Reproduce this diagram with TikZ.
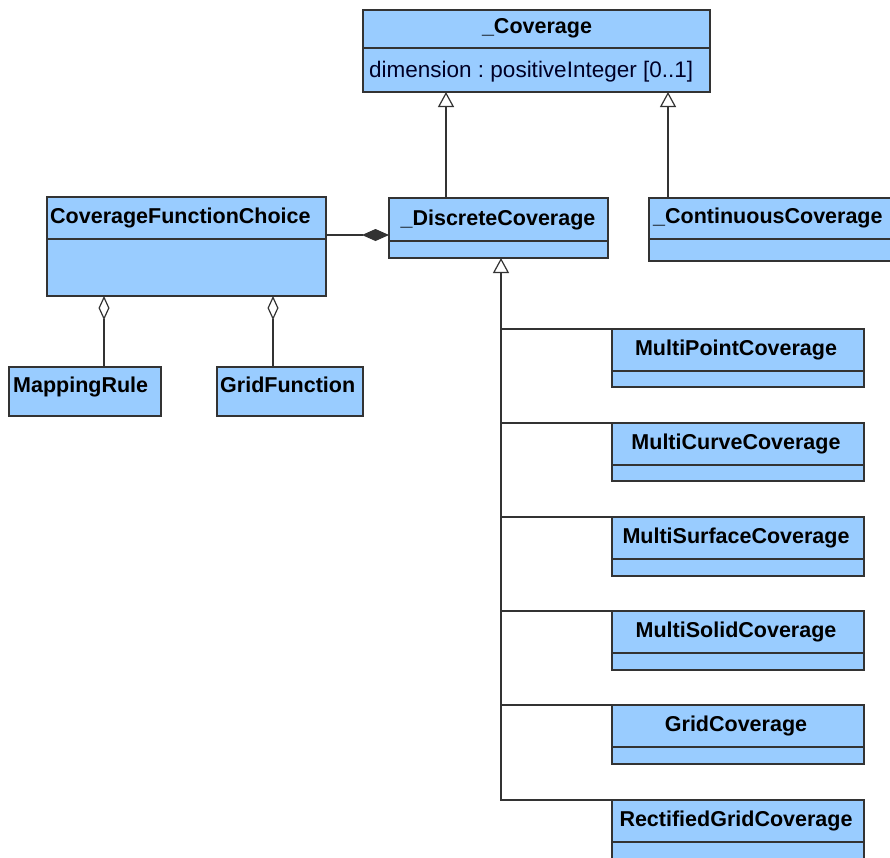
\documentclass[tikz,border=0pt]{standalone}
\usepackage{fontspec}
\setmainfont{Liberation Sans}
\usetikzlibrary{arrows.meta}
\definecolor{clsfill}{RGB}{153,204,255}
\definecolor{clsline}{RGB}{51,51,51}
\frenchspacing
\tikzset{
 cls/.style={draw=clsline, fill=clsfill, line width=1.2pt, inner sep=0pt, outer sep=0pt},
 sepline/.style={draw=clsline, line width=1.2pt},
 ttl/.style={font=\fontsize{21.5}{24}\selectfont\bfseries, inner sep=0pt, text=black},
 attr/.style={font=\fontsize{22.5}{24}\selectfont, inner sep=0pt, text=black!85!blue},
 conn/.style={draw=clsline, line width=1.2pt},
 gen/.style={conn, -{Triangle[open, length=15pt, width=16pt, fill=white]}},
 agg/.style={conn, {Diamond[open, length=24pt, width=11pt, fill=white]}-},
 comp/.style={conn, -{Diamond[length=27pt, width=12pt, fill=clsline]}},
}
% name, x1, y1, x2, y2, ysep (0 = none)
\newcommand\umlcls[6]{%
 \node[cls, anchor=north west, minimum width={#4pt-#2pt}, minimum height={#5pt-#3pt}] (#1) at (#2,#3) {};
 \ifnum#6>0 \draw[sepline] (#2,#6) -- (#4,#6);\fi
}
\begin{document}
\begin{tikzpicture}[x=1pt,y=-1pt]
\useasboundingbox[fill=white] (0,0) rectangle (890,857);
% classes
\umlcls{cov}{363}{10}{710}{92}{48}
\node[ttl, anchor=base] at (537,33) {\_Coverage};
\node[attr, anchor=base west] at (369,77) {dimension : positiveInteger [0..1]};

\umlcls{cfc}{47}{197}{326}{296}{239}
\node[ttl, anchor=base west] at (50,223) {CoverageFunctionChoice};

\umlcls{disc}{389}{198}{608}{258}{241}
\node[ttl, anchor=base] at (498,225) {\_DiscreteCoverage};

\umlcls{cont}{649}{198}{894}{261}{239}
\node[ttl, anchor=base west] at (653,223) {\_ContinuousCoverage};

\umlcls{map}{9}{367}{161}{416}{0}
\node[ttl, anchor=base west] at (13,392) {MappingRule};

\umlcls{gf}{217}{367}{363}{416}{0}
\node[ttl, anchor=base west] at (220,392) {GridFunction};

\umlcls{mpc}{612}{329}{864}{387}{371}
\node[ttl, anchor=base] at (736,355) {MultiPointCoverage};
\umlcls{mcc}{612}{423}{864}{481}{465}
\node[ttl, anchor=base] at (736,449) {MultiCurveCoverage};
\umlcls{msc}{612}{517}{864}{576}{559}
\node[ttl, anchor=base] at (736,543) {MultiSurfaceCoverage};
\umlcls{mso}{612}{611}{864}{670}{653}
\node[ttl, anchor=base] at (736,637) {MultiSolidCoverage};
\umlcls{gc}{612}{705}{864}{764}{747}
\node[ttl, anchor=base] at (736,731) {GridCoverage};
\umlcls{rgc}{612}{800}{864}{860}{842}
\node[ttl, anchor=base] at (736,826) {RectifiedGridCoverage};

% generalisations to _Coverage
\coordinate (g1) at ([xshift=57pt]disc.north west);
\draw[gen] (g1) -- (g1 |- cov.south);
\coordinate (g2) at ([xshift=19pt]cont.north west);
\draw[gen] (g2) -- (g2 |- cov.south);

% composition
\coordinate (dc) at ([yshift=-37pt]disc.north west);
\draw[comp] (cfc.east |- dc) -- (dc);

% aggregations
\coordinate (a1) at ([xshift=95pt]map.north west);
\draw[agg] (a1 |- cfc.south) -- (a1);
\coordinate (a2) at ([xshift=56pt]gf.north west);
\draw[agg] (a2 |- cfc.south) -- (a2);

% generalisation tree to _DiscreteCoverage
\coordinate (trunk) at ([xshift=112pt]disc.south west);
\draw[gen] (rgc.north west) -- (rgc.north west -| trunk) -- (trunk);
\foreach \c in {mpc,mcc,msc,mso,gc}
  \draw[conn] (\c.north west) -- (\c.north west -| trunk);
\end{tikzpicture}
\end{document}
